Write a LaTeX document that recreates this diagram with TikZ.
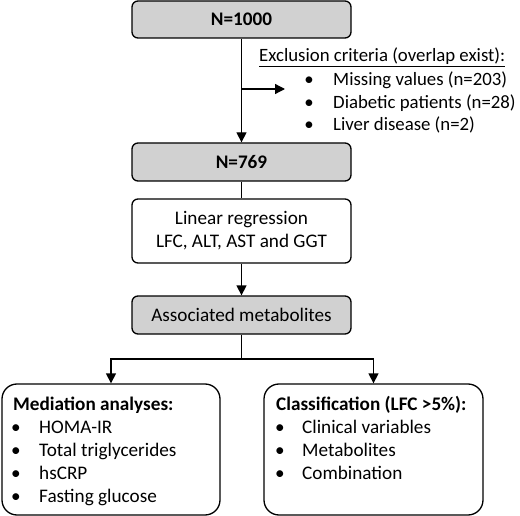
\documentclass[tikz,border=0pt]{standalone}
\usepackage{fontspec}
\setmainfont{Carlito}
\usetikzlibrary{arrows.meta}
\tikzset{
  box/.style={draw, line width=1.3pt, rounded corners=6pt, minimum width=219pt, inner sep=0pt, align=center},
  graybox/.style={box, fill=black!18},
  bigbox/.style={draw, line width=1.3pt, rounded corners=15pt, minimum width=218pt, minimum height=131pt, inner sep=0pt},
  arr/.style={line width=1.3pt, -{Triangle[width=10pt,length=10pt]}},
  ln/.style={line width=1.3pt},
  txt/.style={anchor=base west, inner sep=0pt},
  bul/.style={anchor=base, inner sep=0pt},
  extxt/.style={txt, font=\fontsize{18.8}{22}\selectfont},
  exbul/.style={bul, font=\fontsize{18.8}{22}\selectfont}
}
\begin{document}
\begin{tikzpicture}[x=1pt,y=-1pt, font=\fontsize{19.2}{23}\selectfont]
\useasboundingbox (0,0) rectangle (520,516);
\fill[white] (0,0) rectangle (520,516);

\node[graybox, minimum height=37pt, font=\fontsize{19.2}{23}\selectfont\bfseries] (n1000) at (241.5,19.5) {N=1000};
\node[graybox, minimum height=38pt, font=\fontsize{19.2}{23}\selectfont\bfseries] (n769) at (241.5,162) {N=769};
\node[box, minimum height=64pt, fill=white] (lr) at (241.5,231) {Linear regression\\LFC, ALT, AST and GGT};
\node[graybox, minimum height=38pt] (am) at (241.5,315) {Associated metabolites};
\node[bigbox] (med) at (111,449.5) {};
\node[bigbox, minimum width=219pt] (cls) at (373.5,449.5) {};

% exclusion text
\node[extxt] (exh) at (259,62) {\underline{Exclusion criteria (overlap exist):}};
\node[exbul] (eb1) at (309,86) {•};
\node[extxt] (ex1) at (333,86) {Missing values (n=203)};
\node[exbul] (eb2) at (309,108.5) {•};
\node[extxt] (ex2) at (333,108.5) {Diabetic patients (n=28)};
\node[exbul] (eb3) at (309,131) {•};
\node[extxt] (ex3) at (333,131) {Liver disease (n=2)};

% mediation box text
\node[txt, font=\fontsize{19.2}{23}\selectfont\bfseries] (mh) at (13,410) {Mediation analyses:};
\node[bul] (mb1) at (16,433) {•};
\node[txt] (m1) at (39,433) {HOMA-IR};
\node[bul] (mb2) at (16,456) {•};
\node[txt] (m2) at (39,456) {Total triglycerides};
\node[bul] (mb3) at (16,479) {•};
\node[txt] (m3) at (39,479) {hsCRP};
\node[bul] (mb4) at (16,502) {•};
\node[txt] (m4) at (39,502) {Fasting glucose};

% classification box text
\node[txt, font=\fontsize{19.2}{23}\selectfont\bfseries] (ch) at (276,410) {Classification (LFC >5\%):};
\node[bul] (cb1) at (280,433) {•};
\node[txt] (c1) at (302,433) {Clinical variables};
\node[bul] (cb2) at (280,456) {•};
\node[txt] (c2) at (302,456) {Metabolites};
\node[bul] (cb3) at (280,479) {•};
\node[txt] (c3) at (302,479) {Combination};

% connectors
\coordinate (side) at (241.5,89);
\coordinate (sideend) at (285,89);
\coordinate (br) at (241.5,359);
\draw[arr] (n1000.south) -- (n769.north);
\draw[arr] (side) -- (sideend);
\draw[ln] (n769.south) -- (lr.north);
\draw[arr] (lr.south) -- (am.north);
\draw[ln] (am.south) -- (br);
\draw[arr] (br) -| (med.north);
\draw[arr] (br) -| (cls.north);
\end{tikzpicture}
\end{document}
